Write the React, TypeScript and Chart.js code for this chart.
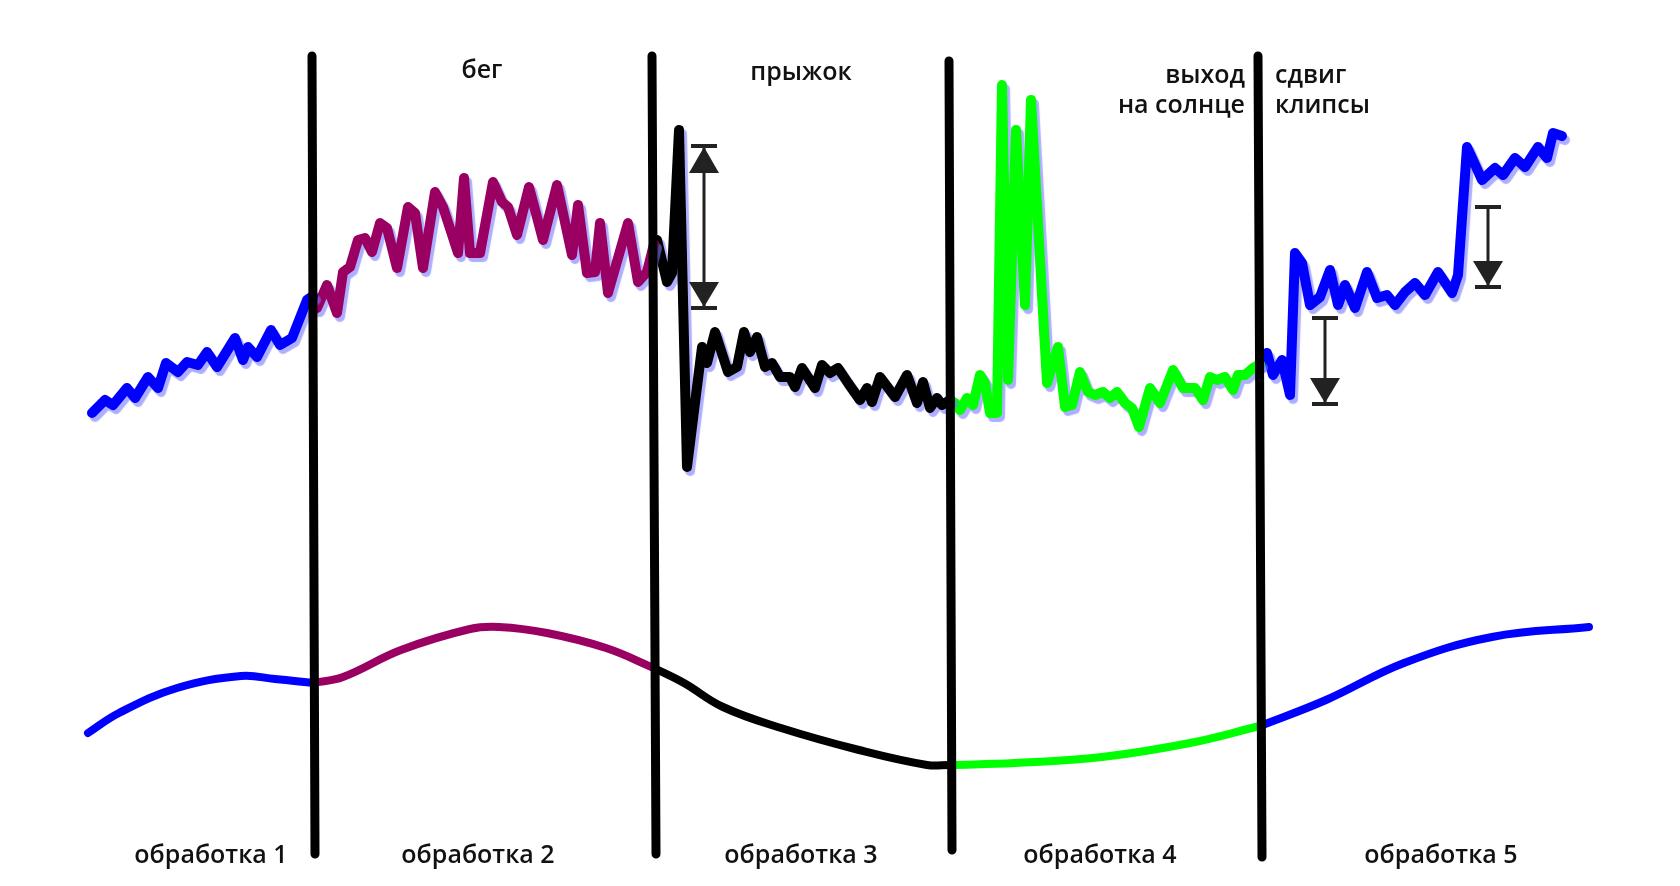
import { useEffect, useRef } from "react";
import { Chart, registerables } from "chart.js";

Chart.register(...registerables);

type P = [number, number];

// Noisy signal (x = time, y = signal level), split into the five processing phases
const signalPhase1: P[] = [[92,473],[105,486],[113,481],[127,498],[135,488],[148,509],[158,498],[166,523],[178,514],[187,524],[198,521],[207,534],[217,519],[235,548],[243,526],[248,539],[257,529],[271,556],[280,541],[292,548],[307,586],[313,590]];
const signalPhase2: P[] = [[313,590],[317,578],[327,601],[337,573],[343,614],[350,619],[358,646],[365,648],[372,634],[380,663],[387,658],[397,618],[408,679],[415,673],[423,618],[435,694],[443,679],[458,633],[464,708],[470,633],[480,633],[493,704],[502,684],[508,679],[517,651],[529,699],[543,646],[557,701],[572,631],[578,681],[587,613],[595,614],[600,663],[608,593],[628,663],[638,604],[647,614],[654,642]];
const signalPhase3: P[] = [[654,642],[657,646],[667,604],[672,613],[679,756],[687,419],[702,539],[707,523],[715,554],[728,514],[737,519],[744,554],[750,534],[757,549],[765,519],[772,523],[780,509],[790,509],[795,499],[802,518],[815,498],[822,521],[830,513],[838,518],[848,503],[860,486],[867,498],[872,484],[880,509],[895,489],[907,511],[917,483],[923,504],[930,478],[937,488],[942,481],[950,486]];
const signalPhase4: P[] = [[950,486],[955,483],[960,476],[967,488],[973,481],[980,511],[985,503],[990,473],[997,473],[1002,801],[1008,506],[1016,756],[1025,581],[1031,786],[1047,503],[1058,539],[1065,479],[1072,481],[1080,514],[1088,494],[1095,491],[1103,494],[1110,488],[1117,494],[1125,483],[1132,478],[1139,459],[1150,498],[1160,483],[1173,516],[1183,498],[1195,498],[1203,486],[1210,509],[1217,506],[1225,509],[1233,496],[1238,511],[1245,511],[1253,518],[1260,522]];
const signalPhase5: P[] = [[1260,522],[1267,533],[1273,511],[1282,526],[1290,491],[1295,633],[1302,623],[1310,581],[1320,589],[1330,616],[1338,581],[1345,601],[1355,578],[1367,614],[1377,588],[1387,591],[1395,581],[1405,594],[1415,603],[1425,591],[1438,614],[1452,593],[1458,611],[1467,739],[1473,726],[1482,706],[1495,718],[1503,711],[1515,728],[1525,719],[1538,739],[1547,728],[1553,753],[1562,750]];

// Smooth trend (lower curve), split the same way
const trendPhase1: P[] = [[88,153],[119,173],[177,198],[241,210],[275,207],[313,203]];
const trendPhase2: P[] = [[313,203],[343,209],[401,236],[470,257],[499,259],[547,253],[606,238],[654,218]];
const trendPhase3: P[] = [[654,218],[684,203],[723,179],[781,158],[859,136],[927,121],[950,121]];
const trendPhase4: P[] = [[950,121],[1015,123],[1102,129],[1190,143],[1260,160]];
const trendPhase5: P[] = [[1260,160],[1326,186],[1404,223],[1492,249],[1589,259]];

const phaseColors = ["#0000ff", "#9a0062", "#000000", "#00ff00", "#0000ff"];

// Phase boundaries (vertical separators)
const boundaryTopX = [312, 652, 949, 1258];
const boundaryBottomX = [315, 656, 952, 1262];
const boundaryTopY = [830, 830, 825, 830];
const boundaryBottomY = [32, 32, 36, 29];

// Phase labels (bottom)
const phaseLabels = ["обработка 1", "обработка 2", "обработка 3", "обработка 4", "обработка 5"];
const phaseLabelX = [211, 478, 801, 1100, 1441];
const phaseLabelY = 23;

// Event labels (top)
const eventLines = ["бег", "прыжок", "выход", "на солнце", "сдвиг", "клипсы"];
const eventX = [482, 801, 1245, 1245, 1275, 1275];
const eventY = [808, 806, 803, 773, 803, 773];
const eventAlign = ["center", "center", "right", "right", "left", "left"];

// Amplitude-change arrows
const arrowX = [704, 1325, 1488];
const arrowTop = [740, 568, 679];
const arrowBottom = [578, 482, 599];
const arrowUpHead = [true, false, false];

const toXY = (pts: P[]) => pts.map(([x, y]) => ({ x, y }));

const shadowPlugin = {
  id: "lineShadow",
  beforeDatasetDraw(chart: any, args: any) {
    const ds = chart.data.datasets[args.index];
    if (ds && ds.shadow) {
      const ctx = chart.ctx;
      ctx.save();
      ctx.shadowColor = "rgba(120,120,255,0.6)";
      ctx.shadowOffsetX = 3;
      ctx.shadowOffsetY = 4;
      ctx.shadowBlur = 1;
    }
  },
  afterDatasetDraw(chart: any, args: any) {
    const ds = chart.data.datasets[args.index];
    if (ds && ds.shadow) chart.ctx.restore();
  },
};

const annotationPlugin = {
  id: "annotations",
  afterDatasetsDraw(chart: any) {
    const ctx = chart.ctx;
    const xs = chart.scales.x;
    const ys = chart.scales.y;
    ctx.save();
    ctx.strokeStyle = "#222";
    ctx.fillStyle = "#222";
    arrowX.forEach((ax, i) => {
      const px = xs.getPixelForValue(ax);
      const yT = ys.getPixelForValue(arrowTop[i]);
      const yB = ys.getPixelForValue(arrowBottom[i]);
      ctx.lineWidth = 3;
      ctx.beginPath();
      ctx.moveTo(px, yT);
      ctx.lineTo(px, yB);
      ctx.stroke();
      ctx.lineWidth = 4;
      ctx.beginPath();
      ctx.moveTo(px - 13, yT);
      ctx.lineTo(px + 13, yT);
      ctx.moveTo(px - 13, yB);
      ctx.lineTo(px + 13, yB);
      ctx.stroke();
      if (arrowUpHead[i]) {
        ctx.beginPath();
        ctx.moveTo(px, yT + 1);
        ctx.lineTo(px - 15, yT + 27);
        ctx.lineTo(px + 15, yT + 27);
        ctx.closePath();
        ctx.fill();
      }
      ctx.beginPath();
      ctx.moveTo(px, yB - 1);
      ctx.lineTo(px - 15, yB - 26);
      ctx.lineTo(px + 15, yB - 26);
      ctx.closePath();
      ctx.fill();
    });
    ctx.fillStyle = "#111";
    ctx.font = '600 25px "Open Sans"';
    ctx.textBaseline = "alphabetic";
    phaseLabels.forEach((t, i) => {
      ctx.textAlign = "center";
      ctx.fillText(t, xs.getPixelForValue(phaseLabelX[i]), ys.getPixelForValue(phaseLabelY));
    });
    eventLines.forEach((t, i) => {
      ctx.textAlign = eventAlign[i];
      ctx.fillText(t, xs.getPixelForValue(eventX[i]), ys.getPixelForValue(eventY[i]));
    });
    ctx.restore();
  },
};

export default function App() {
  const ref = useRef<HTMLCanvasElement | null>(null);
  useEffect(() => {
    if (!ref.current) return;
    const datasets: any[] = [];
    boundaryTopX.forEach((_, i) => {
      datasets.push({
        data: [
          { x: boundaryTopX[i], y: boundaryTopY[i] },
          { x: boundaryBottomX[i], y: boundaryBottomY[i] },
        ],
        borderColor: "#000",
        borderWidth: 9,
        borderCapStyle: "round",
        pointRadius: 0,
        tension: 0,
        order: 0,
      });
    });
    [signalPhase1, signalPhase2, signalPhase3, signalPhase4, signalPhase5].forEach((pts, i) => {
      datasets.push({
        data: toXY(pts),
        borderColor: phaseColors[i],
        borderWidth: 10,
        borderJoinStyle: "round",
        borderCapStyle: "round",
        pointRadius: 0,
        tension: 0,
        order: 1,
        shadow: true,
      });
    });
    [trendPhase1, trendPhase2, trendPhase3, trendPhase4, trendPhase5].forEach((pts, i) => {
      datasets.push({
        data: toXY(pts),
        borderColor: phaseColors[i],
        borderWidth: 8,
        borderCapStyle: "round",
        pointRadius: 0,
        tension: 0.4,
        order: 2,
      });
    });
    const chart = new Chart(ref.current, {
      type: "line",
      data: { datasets },
      options: {
        animation: false,
        responsive: false,
        devicePixelRatio: 1,
        layout: { padding: 0 },
        plugins: { legend: { display: false }, tooltip: { enabled: false }, title: { display: false } },
        elements: { line: { fill: false } },
        datasets: { line: { clip: false } } as any,
        scales: {
          x: { type: "linear", min: 0, max: 1680, display: false },
          y: { type: "linear", min: 0, max: 886, display: false },
        },
      },
      plugins: [shadowPlugin, annotationPlugin],
    });
    return () => chart.destroy();
  }, []);
  return (
    <div style={{ position: "fixed", left: 0, top: 0, width: 1680, height: 886, background: "#fff" }}>
      <canvas ref={ref} width={1680} height={886} style={{ display: "block" }} />
    </div>
  );
}
